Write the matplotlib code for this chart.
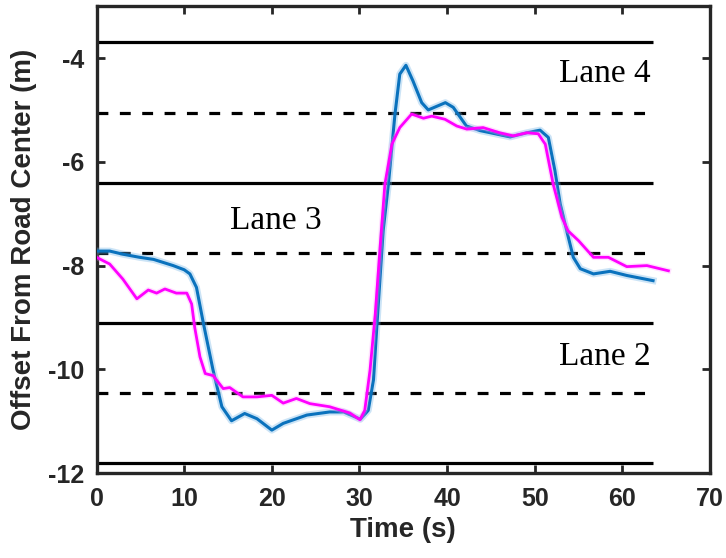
import matplotlib
matplotlib.use("Agg")
import matplotlib.pyplot as plt
from matplotlib import font_manager

# Blue trajectory (time s, offset m)
blue_t = [0, 1.5, 3.0, 4.9, 6.5, 8.75, 10.0, 10.65, 11.4, 12.2, 13.3, 14.3, 15.4, 16.9, 18.3,
          20.0, 21.3, 24.0, 26.6, 28.2, 30.1, 31.0, 31.6, 32.0, 32.7, 33.3, 34.05, 34.6, 35.3,
          36.1, 37.1, 37.85, 39.8, 40.7, 42.2, 43.8, 47.2, 49.1, 50.6, 51.55, 52.3, 52.9,
          53.65, 54.4, 55.2, 56.7, 58.6, 60.5, 63.5]
blue_v = [-7.72, -7.72, -7.78, -7.84, -7.88, -8.0, -8.08, -8.16, -8.42, -9.12, -10.02, -10.72,
          -10.99, -10.85, -10.95, -11.17, -11.04, -10.88, -10.82, -10.82, -10.96, -10.79,
          -10.2, -9.12, -7.33, -6.43, -5.08, -4.31, -4.14, -4.44, -4.86, -5.0, -4.86, -4.95,
          -5.31, -5.4, -5.52, -5.44, -5.39, -5.53, -6.17, -6.81, -7.33, -7.84, -8.06, -8.16,
          -8.11, -8.19, -8.29]

# Magenta trajectory
mag_t = [0, 1.5, 3.0, 4.6, 5.9, 6.85, 7.8, 9.1, 10.3, 10.85, 11.2, 11.8, 12.4, 13.3, 14.45,
         15.2, 16.7, 18.3, 20.0, 21.3, 22.8, 24.35, 26.6, 28.9, 30.05, 30.6, 31.2, 31.8, 32.35,
         32.9, 33.7, 34.6, 35.95, 37.3, 38.25, 39.75, 41.1, 42.25, 44.1, 46.0, 47.55, 49.1,
         50.4, 51.2, 52.1, 53.1, 53.8, 55.0, 56.7, 58.4, 60.5, 62.8, 65.25]
mag_v = [-7.84, -7.97, -8.26, -8.64, -8.47, -8.53, -8.45, -8.53, -8.53, -8.74, -9.19, -9.76,
         -10.08, -10.12, -10.37, -10.35, -10.53, -10.53, -10.5, -10.65, -10.56, -10.66, -10.72,
         -10.84, -10.97, -10.79, -10.02, -8.93, -7.65, -6.43, -5.66, -5.34, -5.08, -5.16,
         -5.12, -5.18, -5.31, -5.37, -5.34, -5.44, -5.5, -5.44, -5.46, -5.66, -6.43, -7.07,
         -7.33, -7.52, -7.84, -7.84, -8.02, -8.0, -8.1]

lane_bounds = [-3.7, -6.4, -9.1, -11.8]
lane_centers = [-5.05, -7.75, -10.45]
line_end = 63.5

xticks = [0, 10, 20, 30, 40, 50, 60, 70]
yticks = [-12, -10, -8, -6, -4]

sans = ['Liberation Sans', 'DejaVu Sans']
names = {f.name for f in font_manager.fontManager.ttflist}
if 'Liberation Sans Narrow' in names:
    tick_family = ['Liberation Sans Narrow', 'DejaVu Sans']
    tick_size = 20
elif 'DejaVu Sans Condensed' in names:
    tick_family = ['DejaVu Sans Condensed', 'DejaVu Sans']
    tick_size = 17
else:
    tick_family = sans
    tick_size = 18

fig = plt.figure(figsize=(7.26, 5.58), dpi=100)
ax = fig.add_axes([0.133, 0.152, 0.845, 0.837])

for yb in lane_bounds:
    ax.plot([0, line_end], [yb, yb], color='black', lw=2.3, solid_capstyle='butt', zorder=2)
for yc in lane_centers:
    ax.plot([0, line_end], [yc, yc], color='black', lw=2.3, linestyle=(0, (3.4, 3.6)),
            dash_capstyle='butt', zorder=2)

ax.plot(blue_t, blue_v, color='#6fb2e6', lw=5, alpha=0.35, zorder=3)
ax.plot(blue_t, blue_v, color='#0a72bd', lw=2.2, zorder=4)
ax.plot(mag_t, mag_v, color='#ff99ff', lw=4, alpha=0.3, zorder=5)
ax.plot(mag_t, mag_v, color='#ff00ff', lw=2.0, zorder=6)

serif = ['Liberation Serif', 'DejaVu Serif']
ax.text(63.2, -4.47, 'Lane 4', family=serif, fontsize=24, ha='right', va='baseline')
ax.text(20.45, -7.29, 'Lane 3', family=serif, fontsize=24, ha='center', va='baseline')
ax.text(63.2, -9.92, 'Lane 2', family=serif, fontsize=24, ha='right', va='baseline')

ax.set_xlim(0, 70)
ax.set_ylim(-12, -3)
ax.set_xticks(xticks)
ax.set_yticks(yticks)
ax.set_xticklabels([str(v) for v in xticks], family=tick_family, fontsize=tick_size,
                   fontweight='bold', color='#262626')
ax.set_yticklabels([str(v) for v in yticks], family=tick_family, fontsize=tick_size,
                   fontweight='bold', color='#262626')
ax.tick_params(direction='in', top=True, right=True, length=6, width=2, color='#262626')
ax.tick_params(axis='x', pad=10)
ax.tick_params(axis='y', pad=9)
for sp in ax.spines.values():
    sp.set_linewidth(2.4)
    sp.set_color('#262626')

ax.set_xlabel('Time (s)', family=sans, fontsize=20, fontweight='bold', color='#262626',
              labelpad=4)
ax.set_ylabel('Offset From Road Center (m)', family=sans, fontsize=20, fontweight='bold',
              color='#262626', labelpad=8)

fig.savefig('out.png', dpi=100)
